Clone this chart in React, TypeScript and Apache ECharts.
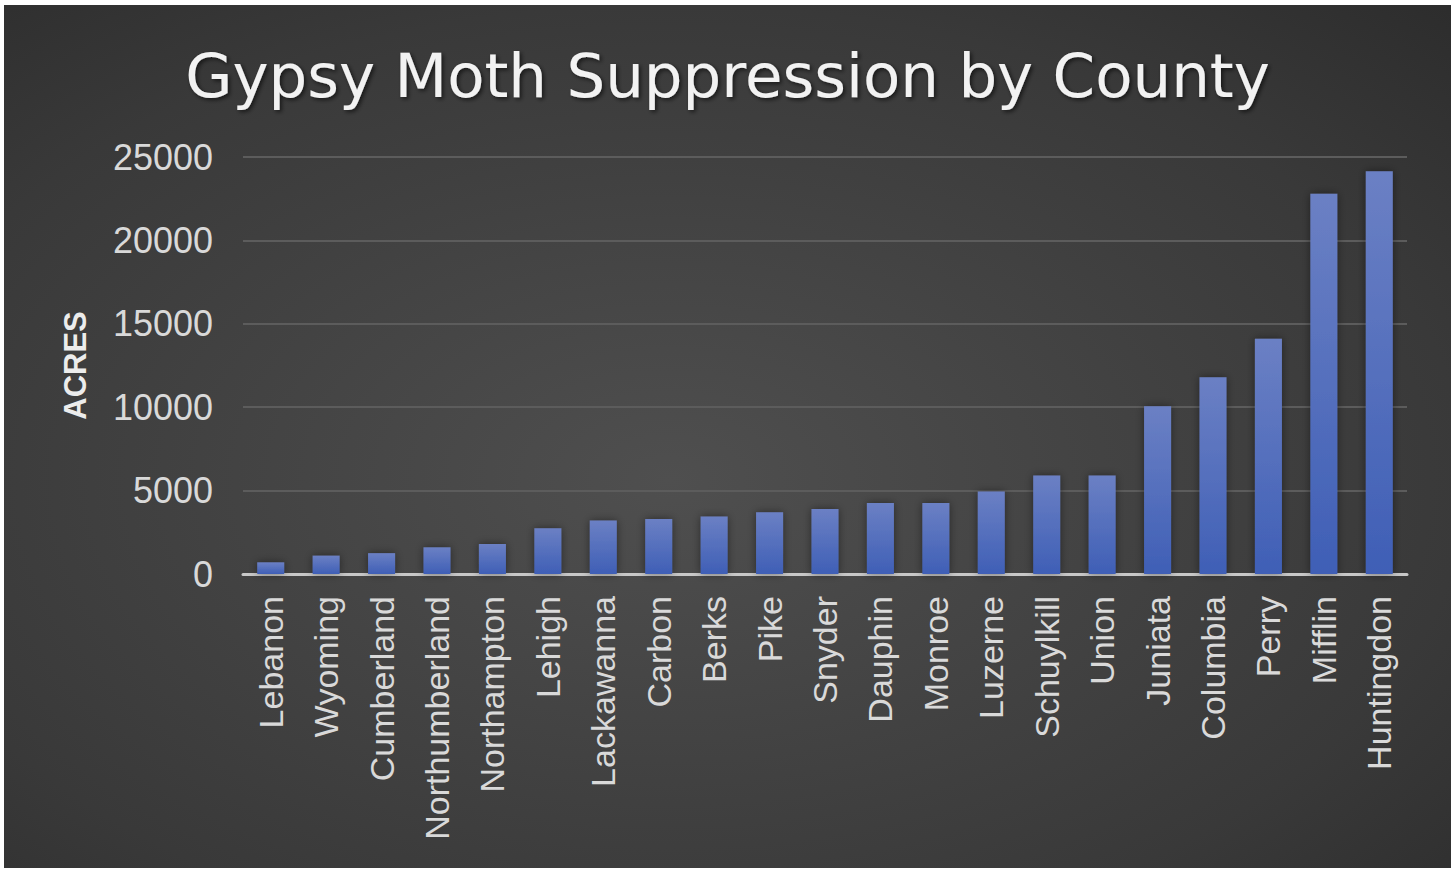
import React, { useEffect, useRef } from "react";
import * as echarts from "echarts";

const titleText = "Gypsy Moth Suppression by County";
const yAxisName = "ACRES";
const categories = [
  "Lebanon", "Wyoming", "Cumberland", "Northumberland", "Northampton", "Lehigh",
  "Lackawanna", "Carbon", "Berks", "Pike", "Snyder", "Dauphin", "Monroe",
  "Luzerne", "Schuylkill", "Union", "Juniata", "Columbia", "Perry", "Mifflin",
  "Huntingdon",
];
const acres = [
  700, 1100, 1250, 1600, 1800, 2750, 3200, 3300, 3450, 3700, 3900, 4250, 4250,
  4950, 5900, 5900, 10050, 11800, 14100, 22800, 24150,
];
const yMin = 0;
const yMax = 25000;
const yInterval = 5000;

export default function App() {
  const ref = useRef<HTMLDivElement>(null);
  useEffect(() => {
    if (!ref.current) return;
    const chart = echarts.init(ref.current, null, { renderer: "svg" });
    chart.setOption({
      animation: false,
      backgroundColor: "#ffffff",
      graphic: [
        {
          type: "rect",
          z: -100,
          silent: true,
          shape: { x: 4, y: 5, width: 1447, height: 863 },
          style: {
            fill: {
              type: "radial",
              x: 0.46,
              y: 0.55,
              r: 1.0,
              colorStops: [
                { offset: 0, color: "#4f4f4f" },
                { offset: 0.55, color: "#393939" },
                { offset: 1, color: "#202020" },
              ],
            },
          },
        },
      ],
      title: {
        text: titleText,
        left: "center",
        top: 40,
        textStyle: {
          fontFamily: "DejaVu Sans",
          fontSize: 61,
          fontWeight: "normal",
          color: "#f2f2f2",
          textShadowColor: "rgba(0,0,0,0.6)",
          textShadowBlur: 4,
          textShadowOffsetX: 2,
          textShadowOffsetY: 2,
        },
      },
      grid: { left: 243, right: 48, top: 157, bottom: 295 },
      xAxis: {
        type: "category",
        data: categories,
        axisLine: { show: true, lineStyle: { color: "#c8c8c8", width: 3 } },
        axisTick: { show: false },
        axisLabel: {
          rotate: 90,
          interval: 0,
          margin: 22,
          fontFamily: "Liberation Sans",
          fontSize: 34,
          color: "#d9d9d9",
        },
      },
      yAxis: {
        type: "value",
        min: yMin,
        max: yMax,
        interval: yInterval,
        name: yAxisName,
        nameLocation: "middle",
        nameRotate: 90,
        nameGap: 152,
        nameTextStyle: {
          fontFamily: "Liberation Sans",
          fontSize: 31,
          fontWeight: "bold",
          color: "#ececec",
        },
        axisLine: { show: false },
        axisTick: { show: false },
        axisLabel: {
          margin: 30,
          fontFamily: "Liberation Sans",
          fontSize: 36,
          color: "#d9d9d9",
          formatter: (v: number) => String(v),
        },
        splitLine: { lineStyle: { color: "#5c5c5c", width: 2 } },
      },
      series: [
        {
          type: "bar",
          data: acres,
          barWidth: 27,
          itemStyle: {
            color: {
              type: "linear",
              x: 0,
              y: 0,
              x2: 0,
              y2: 1,
              colorStops: [
                { offset: 0, color: "#6b80c4" },
                { offset: 1, color: "#3f5fb6" },
              ],
            },
            shadowColor: "rgba(0,0,0,0.45)",
            shadowBlur: 8,
          },
        },
      ],
    });
    return () => chart.dispose();
  }, []);
  return (
    <div
      ref={ref}
      style={{ position: "absolute", left: 0, top: 0, width: 1455, height: 869 }}
    />
  );
}
